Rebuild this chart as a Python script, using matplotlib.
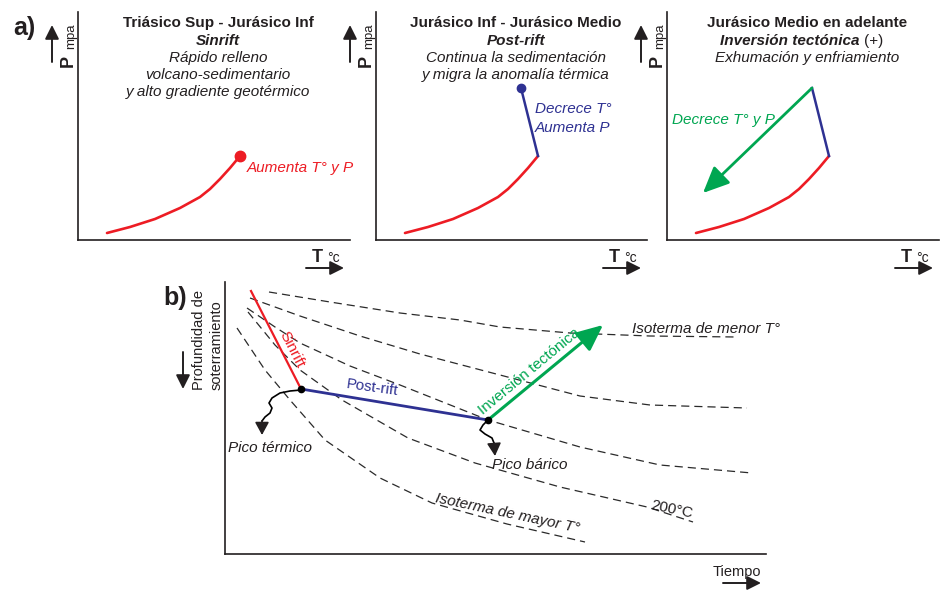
import matplotlib
matplotlib.use("Agg")
import matplotlib.pyplot as plt

plt.rcParams['font.family'] = ['Liberation Sans', 'DejaVu Sans']

W, H = 946, 592
RED, BLUE, GREEN, INK = '#ed1c24', '#2e3192', '#00a651', '#231f20'

# ---------------- data: panel a (T vs P, arbitrary units) ----------------
burial_T = [29, 52, 77, 102, 122, 132, 142, 152, 162]
burial_P = [7, 13, 21, 32, 43, 51, 61, 72, 84]
cool_T = [162, 145]          # post-rift: T decreases, P increases
cool_P = [84, 152]
inv_T = [145, 36]            # inversion: T and P decrease
inv_P = [152, 47]

titles = [
    ["Triásico Sup - Jurásico Inf", "Sinrift", "Rápido relleno",
     "volcano-sedimentario", "y alto gradiente geotérmico"],
    ["Jurásico Inf - Jurásico Medio", "Post-rift", "Continua la sedimentación",
     "y migra la anomalía térmica"],
    ["Jurásico Medio en adelante", "Inversión tectónica", "Exhumación y enfriamiento"],
]

# ---------------- data: panel b (tiempo vs profundidad) ----------------
sinrift_t, sinrift_z = [26, 76], [9, 107]
postrift_t, postrift_z = [76, 263], [107, 138]
inver_t, inver_z = [263, 378], [138, 43]

isoA_t = [44, 105, 175, 235, 275, 345, 425, 512]
isoA_z = [10, 20, 31, 38, 45, 51, 54, 55]
isoB_t = [25, 75, 135, 195, 275, 355, 425, 522]
isoB_z = [16, 34, 54, 72, 93, 114, 123, 126]
isoC_t = [22, 50, 75, 125, 175, 263, 355, 435, 527]
isoC_z = [26, 45, 61, 84, 103, 138, 165, 183, 191]
isoD_t = [23, 50, 75, 117, 183, 250, 335, 422, 468]
isoD_z = [30, 63, 88, 118, 156, 181, 205, 225, 240]
isoE_t = [12, 40, 65, 100, 155, 207, 282, 360]
isoE_z = [46, 88, 118, 158, 196, 221, 242, 260]

termico_t = [76, 65, 55, 47, 44, 47, 45, 40, 37]
termico_z = [108, 109, 111, 116, 121, 126, 131, 135, 139]
termico_tip = (37, 153)
barico_t = [263, 258, 255, 260, 267, 269]
barico_z = [138, 143, 148, 152, 156, 161]
barico_tip = (270, 174)

fig = plt.figure(figsize=(W / 100, H / 100), dpi=100)


def px_axes(left, top, width, height):
    return fig.add_axes([left / W, 1 - (top + height) / H, width / W, height / H])


def style_axes(ax):
    for s in ('top', 'right'):
        ax.spines[s].set_visible(False)
    for s in ('left', 'bottom'):
        ax.spines[s].set_linewidth(1.2)
        ax.spines[s].set_color(INK)
    ax.set_xticks([])
    ax.set_yticks([])
    ax.patch.set_alpha(0)


def arrow(ax, tail, tip, color=INK, lw=1.3, hl=0.6, hw=0.3, ms=12, z=5):
    ax.annotate('', xy=tip, xytext=tail,
                arrowprops=dict(arrowstyle=f'-|>,head_length={hl},head_width={hw}',
                                lw=lw, color=color, shrinkA=0, shrinkB=0,
                                mutation_scale=ms), zorder=z)


# ---------------- panel a ----------------
lefts = [78, 376, 667]
widths = [272, 271, 272]
TOP, HA = 12, 228
title_base = [213, 195, 178, 161, 144]
panel_axes = []
for i, (L, w) in enumerate(zip(lefts, widths)):
    ax = px_axes(L, TOP, w, HA)
    style_axes(ax)
    ax.set_xlim(0, w)
    ax.set_ylim(0, HA)
    panel_axes.append(ax)
    ax.plot(burial_T, burial_P, color=RED, lw=1.9, solid_capstyle='round',
            solid_joinstyle='round', clip_on=False)
    lines = titles[i]
    for j, txt in enumerate(lines):
        if j == 0:
            kw = dict(fontweight='bold')
        elif j == 1:
            kw = dict(fontweight='bold', fontstyle='italic')
        else:
            kw = dict(fontstyle='italic')
        if i == 2 and j == 1:
            t1 = ax.text(123, title_base[j], txt, ha='center', va='baseline',
                         fontsize=11, color=INK, **kw)
            ax.annotate('(+)', xy=(1, 0), xycoords=t1, xytext=(3, 0),
                        textcoords='offset points', ha='left', va='bottom',
                        fontsize=11, color=INK)
        else:
            ax.text(140, title_base[j], txt, ha='center', va='baseline',
                    fontsize=11, color=INK, **kw)

a1, a2, a3 = panel_axes
a1.plot([burial_T[-1]], [burial_P[-1]], 'o', color=RED, ms=7.5, clip_on=False)
a1.text(169, 68, "Aumenta T° y P", color=RED, fontstyle='italic', fontsize=11,
        ha='left', va='baseline')

a2.plot(cool_T, cool_P, color=BLUE, lw=1.8, clip_on=False)
a2.plot([cool_T[-1]], [cool_P[-1]], 'o', color=BLUE, ms=6, clip_on=False)
a2.text(159, 127, "Decrece T°", color=BLUE, fontstyle='italic', fontsize=11,
        ha='left', va='baseline')
a2.text(159, 108, "Aumenta P", color=BLUE, fontstyle='italic', fontsize=11,
        ha='left', va='baseline')

a3.plot(cool_T, cool_P, color=BLUE, lw=1.8, clip_on=False)
arrow(a3, (inv_T[0], inv_P[0]), (inv_T[1], inv_P[1]), color=GREEN, lw=2.0,
      hl=0.8, hw=0.36, ms=20)
a3.text(5, 116, "Decrece T° y P", color=GREEN, fontstyle='italic', fontsize=11,
        ha='left', va='baseline')

# ---------------- panel b ----------------
bx = px_axes(225, 282, 541, 272)
style_axes(bx)
bx.set_xlim(0, 541)
bx.set_ylim(272, 0)

for tt, zz in [(isoA_t, isoA_z), (isoB_t, isoB_z), (isoC_t, isoC_z),
               (isoD_t, isoD_z), (isoE_t, isoE_z)]:
    bx.plot(tt, zz, color='#2a2a2a', lw=0.9, dashes=(6.5, 4), clip_on=False)

bx.plot(sinrift_t, sinrift_z, color=RED, lw=1.6, zorder=3)
bx.plot(postrift_t, postrift_z, color=BLUE, lw=2.0, zorder=3)
arrow(bx, (inver_t[0], inver_z[0]), (inver_t[1], inver_z[1]), color=GREEN,
      lw=2.2, hl=0.8, hw=0.36, ms=20, z=3)
bx.plot([postrift_t[0], postrift_t[1]], [postrift_z[0], postrift_z[1]], 'o',
        color='k', ms=4.5, zorder=4)

bx.plot(termico_t, termico_z, color='k', lw=1.2, zorder=4)
arrow(bx, (termico_t[-1], termico_z[-1]), termico_tip, lw=1.2, hl=0.55, hw=0.3, ms=14)
bx.plot(barico_t, barico_z, color='k', lw=1.2, zorder=4)
arrow(bx, (barico_t[-1], barico_z[-1]), barico_tip, lw=1.2, hl=0.55, hw=0.3, ms=14)

rk = dict(rotation_mode='anchor', ha='center', va='center', fontsize=11)
bx.text(67, 68, "Sinrift", color=RED, rotation=-63, **rk)
bx.text(147, 106, "Post-rift", color=BLUE, rotation=-8, **rk)
bx.text(304, 89, "Inversión tectónica", color=GREEN, rotation=39.6, **rk)
bx.text(481, 47, "Isoterma de menor T°", color=INK, fontstyle='italic', **rk)
bx.text(282, 231, "Isoterma de mayor T°", color=INK, fontstyle='italic',
        rotation=-12, **rk)
bx.text(447, 228, "200°C", color=INK, rotation=-12, **rk)
bx.text(45, 166, "Pico térmico", color=INK, fontstyle='italic', **rk)
bx.text(305, 183, "Pico bárico", color=INK, fontstyle='italic', **rk)

# ---------------- overlay: labels and axis arrows ----------------
ov = fig.add_axes([0, 0, 1, 1])
ov.set_xlim(0, W)
ov.set_ylim(H, 0)
ov.axis('off')
ov.set_zorder(10)

ov.text(24, 28, "a)", fontsize=18, fontweight='bold', ha='center', va='center', color=INK)
ov.text(175, 298, "b)", fontsize=18, fontweight='bold', ha='center', va='center', color=INK)

for L, w in zip(lefts, widths):
    R = L + w
    arrow(ov, (L - 26, 62), (L - 26, 25), lw=1.4, hl=0.7, hw=0.35, ms=12)
    ov.text(L - 5, 61, "P", rotation=90, rotation_mode='anchor', ha='center',
            va='baseline', fontsize=13, fontweight='bold', color=INK)
    ov.text(L - 4, 36, "mpa", rotation=90, rotation_mode='anchor', ha='center',
            va='baseline', fontsize=9.5, color=INK)
    ov.text(R - 33, 262, "T", ha='center', va='baseline', fontsize=13,
            fontweight='bold', color=INK)
    ov.text(R - 23, 262, "°c", ha='left', va='baseline', fontsize=10, color=INK)
    arrow(ov, (R - 44, 268), (R - 6, 268), lw=1.4, hl=0.7, hw=0.35, ms=12)

ov.text(199, 390, "Profundidad de", rotation=90, rotation_mode='anchor',
        ha='left', va='center', fontsize=10.5, color=INK)
ov.text(217, 390, "soterramiento", rotation=90, rotation_mode='anchor',
        ha='left', va='center', fontsize=10.5, color=INK)
arrow(ov, (183, 352), (183, 389), lw=1.4, hl=0.7, hw=0.35, ms=12)
ov.text(737, 572, "Tiempo", ha='center', va='center', fontsize=10.5, color=INK)
arrow(ov, (723, 583), (761, 583), lw=1.4, hl=0.7, hw=0.35, ms=12)

fig.savefig("out.png", dpi=100)
